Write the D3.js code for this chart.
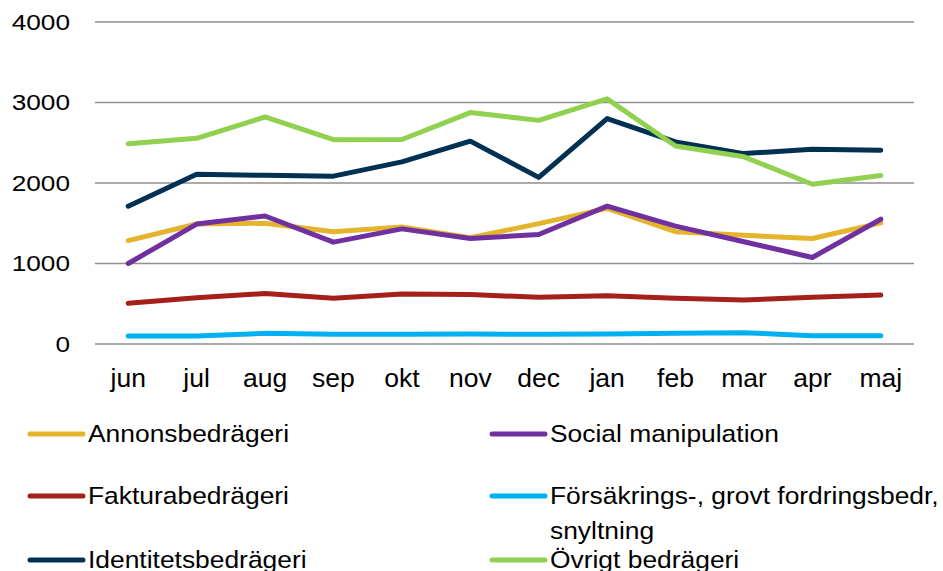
<!DOCTYPE html>
<html>
<head>
<meta charset="utf-8">
<script src="https://cdn.jsdelivr.net/npm/d3@7"></script>
<style>
  html, body { margin: 0; padding: 0; background: #fff; }
  svg { display: block; font-family: "Liberation Sans", Arial, sans-serif; }
</style>
</head>
<body>
<svg id="chart" width="943" height="571"></svg>
<script>
const months = ["jun","jul","aug","sep","okt","nov","dec","jan","feb","mar","apr","maj"];
const yTicks = [0, 1000, 2000, 3000, 4000];

const annons      = [1285, 1490, 1500, 1395, 1455, 1320, 1495, 1685, 1395, 1350, 1310, 1505];
const social      = [1000, 1490, 1590, 1265, 1430, 1310, 1360, 1712, 1465, 1270, 1075, 1550];
const faktura     = [505, 575, 628, 567, 620, 615, 580, 600, 567, 546, 580, 608];
const forsakring  = [100, 100, 132, 120, 120, 124, 120, 124, 133, 140, 104, 104];
const identitet   = [1712, 2108, 2095, 2085, 2262, 2520, 2070, 2800, 2510, 2365, 2420, 2408];
const ovrigt      = [2488, 2555, 2820, 2538, 2540, 2875, 2778, 3045, 2460, 2325, 1985, 2092];

const seriesNames = ["Annonsbedrägeri", "Social manipulation", "Fakturabedrägeri",
  "Försäkrings-, grovt fordringsbedr,\nsnyltning", "Identitetsbedrägeri", "Övrigt bedrägeri"];
const seriesValues = [annons, social, faktura, forsakring, identitet, ovrigt];
const seriesColors = ["#E4B52C", "#7030A0", "#A5201B", "#00B0F0", "#003152", "#92D050"];

const svg = d3.select("#chart");

const x = d3.scaleBand().domain(months).range([94, 915]);
const y = d3.scaleLinear().domain([0, 4000]).range([344, 22]);

// gridlines
svg.append("g").selectAll("line").data(yTicks).join("line")
  .attr("x1", 95).attr("x2", 914)
  .attr("y1", d => y(d)).attr("y2", d => y(d))
  .attr("stroke", "#8f8f8f").attr("stroke-width", 1.6);

// y tick labels
svg.append("g").selectAll("text").data(yTicks).join("text")
  .attr("transform", d => `translate(70,${y(d) + 7.5}) scale(1.22,1)`)
  .attr("text-anchor", "end").attr("font-size", 21.5).attr("fill", "#000")
  .text(d => d);

// x tick labels
svg.append("g").selectAll("text").data(months).join("text")
  .attr("transform", d => `translate(${x(d) + x.bandwidth() / 2},387) scale(1.02,1)`)
  .attr("text-anchor", "middle").attr("font-size", 26).attr("fill", "#000")
  .text(d => d);

// lines
const line = d3.line().x((d, i) => x(months[i]) + x.bandwidth() / 2).y(d => y(d));
svg.append("g").selectAll("path").data(seriesValues).join("path")
  .attr("d", d => line(d))
  .attr("fill", "none")
  .attr("stroke", (d, i) => seriesColors[i])
  .attr("stroke-width", 5)
  .attr("stroke-linejoin", "round")
  .attr("stroke-linecap", "round");

// legend
const legendRowsY = [434, 496, 560];
const legendColX = [28, 490];
const lg = svg.append("g");
seriesNames.forEach((name, i) => {
  const col = i % 2, row = Math.floor(i / 2);
  const lx = legendColX[col], ly = legendRowsY[row];
  lg.append("line")
    .attr("x1", lx + 2).attr("x2", lx + 55)
    .attr("y1", ly).attr("y2", ly)
    .attr("stroke", seriesColors[i]).attr("stroke-width", 5)
    .attr("stroke-linecap", "round");
  name.split("\n").forEach((part, k) => {
    lg.append("text")
      .attr("transform", `translate(${lx + 60},${ly + 8} ) translate(0,${k * 35}) scale(1.1,1)`)
      .attr("font-size", 24).attr("fill", "#000")
      .text(part);
  });
});
</script>
</body>
</html>
